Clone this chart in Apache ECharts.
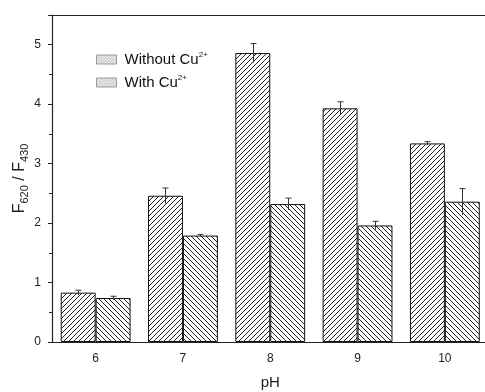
<!DOCTYPE html>
<html><head><meta charset="utf-8">
<script src="https://cdn.jsdelivr.net/npm/echarts@6/dist/echarts.min.js"></script>
<style>html,body{margin:0;padding:0;background:#fff;overflow:hidden}#c{width:485px;height:392px}</style>
</head><body><div id="c"></div>
<script>
const categories = ['6','7','8','9','10'];
const withoutCu = [0.83, 2.46, 4.86, 3.93, 3.34];
const withoutErr = [0.04, 0.13, 0.16, 0.11, 0.03];
const withCu = [0.74, 1.79, 2.32, 1.96, 2.36];
const withErr = [0.03, 0.02, 0.10, 0.07, 0.22];
const yTicks = [0, 1, 2, 3, 4, 5];

function hatch(dir, s, bg, fg, lw) {
  const c = document.createElement('canvas');
  c.width = s; c.height = s;
  const g = c.getContext('2d');
  g.fillStyle = bg; g.fillRect(0, 0, s, s);
  g.strokeStyle = fg; g.lineWidth = lw;
  g.beginPath();
  if (dir > 0) {
    g.moveTo(0, s); g.lineTo(s, 0);
    g.moveTo(-1, 1); g.lineTo(1, -1);
    g.moveTo(s - 1, s + 1); g.lineTo(s + 1, s - 1);
  } else {
    g.moveTo(0, 0); g.lineTo(s, s);
    g.moveTo(-1, s - 1); g.lineTo(1, s + 1);
    g.moveTo(s - 1, -1); g.lineTo(s + 1, 1);
  }
  g.stroke();
  return c;
}
const pUp = hatch(1, 5, '#fff', '#222', 1);
const pDown = hatch(-1, 5, '#fff', '#222', 1);
const lUp = hatch(1, 3, '#eee', '#aaa', 0.8);
const lDown = hatch(-1, 3, '#eee', '#aaa', 0.8);

function errSeries(vals, errs, side) {
  return {
    type: 'custom',
    xAxisIndex: 0, yAxisIndex: 0,
    silent: true,
    z: 10,
    data: vals.map((v, i) => [i, v - errs[i], v + errs[i]]),
    renderItem: function (params, api) {
      const bw = api.size([1, 0])[0];
      const c = api.coord([api.value(0), api.value(2)]);
      const lo = api.coord([api.value(0), api.value(1)]);
      const x = Math.round(c[0] + side * bw * 0.2) + 0.5;
      return {
        type: 'group',
        children: [
          { type: 'line', shape: { x1: x, y1: c[1], x2: x, y2: lo[1] }, style: { stroke: '#333', lineWidth: 1 } },
          { type: 'line', shape: { x1: x - 3, y1: c[1], x2: x + 3, y2: c[1] }, style: { stroke: '#333', lineWidth: 1 } }
        ]
      };
    }
  };
}

const chart = echarts.init(document.getElementById('c'));
chart.setOption({
  animation: false,
  grid: { left: 52, top: 15, width: 436.5, bottom: 50, outerBoundsMode: 'none', containLabel: false },
  legend: {
    left: 91, top: 46, orient: 'vertical', itemWidth: 20, itemHeight: 9, itemGap: 7,
    icon: 'rect',
    data: [
      { name: 'Without', itemStyle: { color: { image: lUp, repeat: 'repeat' }, borderColor: '#999', borderWidth: 1 } },
      { name: 'With', itemStyle: { color: { image: lDown, repeat: 'repeat' }, borderColor: '#999', borderWidth: 1 } }
    ],
    formatter: function (n) { return '{t|' + n + ' Cu}{s|2+}'; },
    textStyle: {
      padding: [0, 0, 0, 3],
      rich: {
        t: { fontFamily: 'Liberation Sans', fontSize: 15, color: '#111' },
        s: { fontFamily: 'Liberation Sans', fontSize: 8, color: '#111', padding: [0, 0, 9, 0] }
      }
    }
  },
  xAxis: [{
    type: 'category', data: categories, position: 'bottom',
    axisLine: { lineStyle: { color: '#222', width: 1.2 } },
    axisTick: { alignWithLabel: true, length: 5, lineStyle: { color: '#222' } },
    axisLabel: { fontFamily: 'Liberation Sans', fontSize: 12, color: '#222', margin: 11 },
    name: 'pH', nameLocation: 'middle', nameGap: 33,
    nameTextStyle: { fontFamily: 'Liberation Sans', fontSize: 15, color: '#222' }
  }, {
    type: 'category', data: categories, position: 'bottom',
    axisLine: { show: false },
    axisTick: { length: 3, lineStyle: { color: '#222' } },
    axisLabel: { show: false }
  }, {
    type: 'category', data: categories, position: 'top',
    axisLine: { lineStyle: { color: '#222', width: 1.2 } },
    axisTick: { show: false }, axisLabel: { show: false }
  }],
  yAxis: {
    type: 'value', min: 0, max: 5.5, interval: 1,
    axisLine: { show: true, lineStyle: { color: '#222', width: 1.2 } },
    axisTick: { show: true, length: 4, lineStyle: { color: '#222' } },
    minorTick: { show: true, splitNumber: 2, length: 3, lineStyle: { color: '#222' } },
    splitLine: { show: false },
    axisLabel: { fontFamily: 'Liberation Sans', fontSize: 12, color: '#222', margin: 11,
      formatter: function (v) { return yTicks.indexOf(v) >= 0 ? String(v) : ''; } },
    name: '{a|F}{b|620}{a| / F}{b|430}', nameLocation: 'middle', nameGap: 22, nameRotate: 90,
    nameMoveOverlap: false,
    nameTextStyle: {
      rich: {
        a: { fontFamily: 'Liberation Sans', fontSize: 16, color: '#222' },
        b: { fontFamily: 'Liberation Sans', fontSize: 11, color: '#222', padding: [9, 0, 0, 0] }
      }
    }
  },
  series: [
    { name: 'Without', type: 'bar', data: withoutCu, barWidth: '40%', barGap: '0%',
      itemStyle: { color: { image: pUp, repeat: 'repeat' }, borderColor: '#111', borderWidth: 1 } },
    { name: 'With', type: 'bar', data: withCu, barWidth: '40%', barGap: '0%',
      itemStyle: { color: { image: pDown, repeat: 'repeat' }, borderColor: '#111', borderWidth: 1 } },
    errSeries(withoutCu, withoutErr, -1),
    errSeries(withCu, withErr, 1)
  ]
});
</script></body></html>
